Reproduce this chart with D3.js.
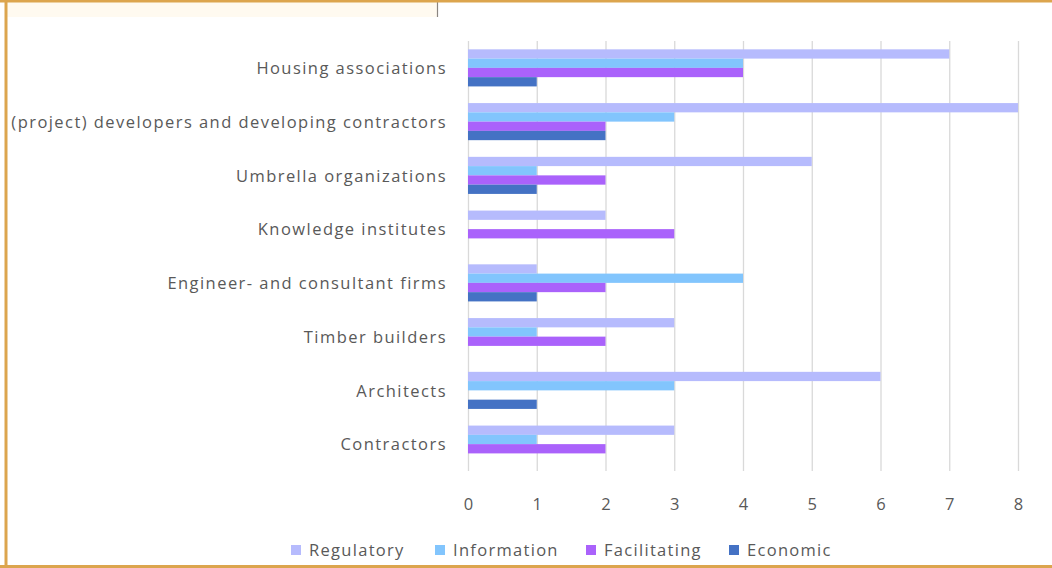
<!DOCTYPE html>
<html>
<head>
<meta charset="utf-8">
<script src="https://cdn.jsdelivr.net/npm/d3@7"></script>
<style>
  html, body { margin: 0; padding: 0; background: #fff; }
  svg { display: block; }
  text { font-family: "Open Sans", "Noto Sans", sans-serif; fill: #595959; }
</style>
</head>
<body>
<script>
// Actor groups (top to bottom) and the number of instruments of each type
const categories = [
  "Housing associations",
  "(project) developers and developing contractors",
  "Umbrella organizations",
  "Knowledge institutes",
  "Engineer- and consultant firms",
  "Timber builders",
  "Architects",
  "Contractors"
];
const seriesNames = ["Regulatory", "Information", "Facilitating", "Economic"];
const regulatory   = [7, 8, 5, 2, 1, 3, 6, 3];
const information  = [4, 3, 1, 0, 4, 1, 3, 1];
const facilitating = [4, 2, 2, 3, 2, 2, 0, 2];
const economic     = [1, 2, 1, 0, 1, 0, 1, 0];
const tickValues = [0, 1, 2, 3, 4, 5, 6, 7, 8];
const colors = ["#b6bbfd", "#82c5fd", "#aa62fb", "#4472c4"];

const seriesValues = [regulatory, information, facilitating, economic];

const W = 1052, H = 568;
const svg = d3.select("body").append("svg").attr("width", W).attr("height", H);

// frame decoration
svg.append("rect").attr("x", 7).attr("y", 2).attr("width", 430).attr("height", 15).attr("fill", "#fffaf0");
svg.append("line").attr("x1", 437.5).attr("x2", 437.5).attr("y1", 2).attr("y2", 17).attr("stroke", "#8a8580").attr("stroke-width", 1.2);
svg.append("rect").attr("x", 0).attr("y", 0).attr("width", W).attr("height", 2.5).attr("fill", "#dca54e");
svg.append("rect").attr("x", 4.5).attr("y", 0).attr("width", 3).attr("height", H).attr("fill", "#dca54e");
svg.append("rect").attr("x", 0).attr("y", 565).attr("width", W).attr("height", 3).attr("fill", "#dca54e");

const plotLeft = 468, plotRight = 1018, plotTop = 41, plotBottom = 471;

const x = d3.scaleLinear().domain([0, 8]).range([plotLeft, plotRight]);
const y = d3.scaleBand().domain(categories).range([plotTop, plotBottom]).paddingInner(0.31).paddingOuter(0.155);
const ySub = d3.scaleBand().domain(seriesNames).range([0, y.bandwidth()]);

// vertical gridlines
svg.append("g").selectAll("line").data(tickValues).join("line")
  .attr("x1", d => x(d) + 0.5).attr("x2", d => x(d) + 0.5)
  .attr("y1", plotTop).attr("y2", plotBottom)
  .attr("stroke", "#d9d9d9").attr("stroke-width", 1.3);

// bars
const rows = categories.map((c, i) => ({ cat: c, vals: seriesNames.map((s, j) => ({ s, j, v: seriesValues[j][i] })) }));
const g = svg.append("g").selectAll("g").data(rows).join("g")
  .attr("transform", d => `translate(0,${y(d.cat)})`);
g.selectAll("rect").data(d => d.vals.filter(e => e.v > 0)).join("rect")
  .attr("x", x(0))
  .attr("y", d => ySub(d.s))
  .attr("width", d => x(d.v) - x(0))
  .attr("height", ySub.bandwidth())
  .attr("fill", d => colors[d.j]);

// category labels
svg.append("g").selectAll("text").data(categories).join("text")
  .attr("x", 447).attr("y", d => y(d) + y.bandwidth() / 2 + 0.5)
  .attr("dy", "0.35em").attr("text-anchor", "end")
  .attr("font-size", 16.5).attr("letter-spacing", 1.45)
  .text(d => d);

// value axis
const axis = d3.axisBottom(x).tickValues(tickValues).tickSize(0).tickPadding(0);
const ax = svg.append("g").attr("transform", `translate(0,${plotBottom})`).call(axis);
ax.select(".domain").remove();
ax.selectAll("text").attr("y", 33).attr("dy", "0.35em").attr("font-size", 16.5).attr("fill", "#595959").attr("font-family", null);

// legend
const legendX = [291, 435, 586, 729];
const lg = svg.append("g").selectAll("g").data(seriesNames).join("g")
  .attr("transform", (d, i) => `translate(${legendX[i]},550)`);
lg.append("rect").attr("x", 0).attr("y", -5).attr("width", 10).attr("height", 10).attr("fill", (d, i) => colors[i]);
lg.append("text").attr("x", 18).attr("dy", "0.35em").attr("font-size", 16.5).attr("letter-spacing", 1.3).text(d => d);
</script>
</body>
</html>
